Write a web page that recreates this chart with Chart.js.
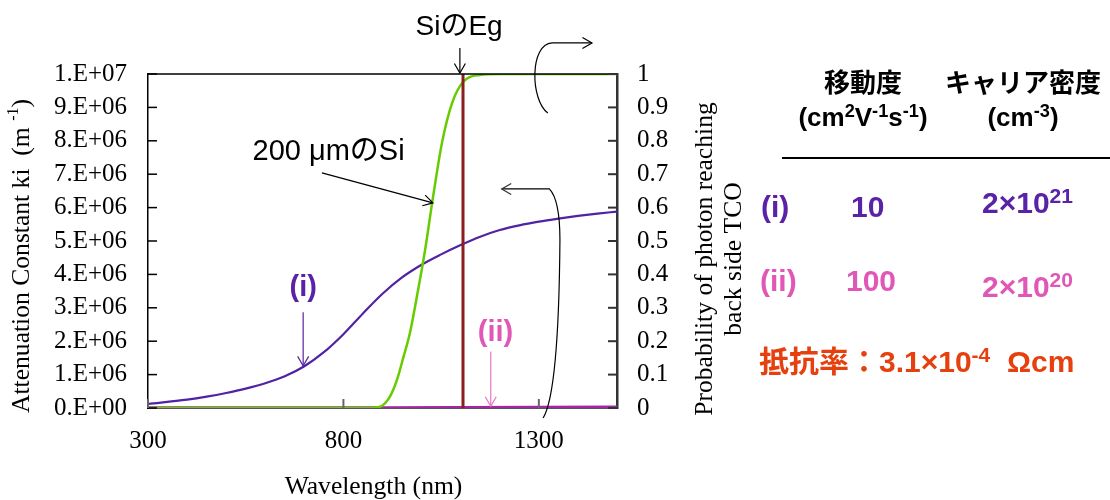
<!DOCTYPE html>
<html>
<head>
<meta charset="utf-8">
<script src="https://cdn.jsdelivr.net/npm/chart.js@4"></script>
<style>
  html, body { margin: 0; padding: 0; background: #fff; }
  #wrap { position: relative; width: 1110px; height: 500px; overflow: hidden; }
  #c { position: absolute; left: 0; top: 0; }
  .t { position: absolute; white-space: nowrap; line-height: 1; font-family: "Liberation Sans", "Noto Sans CJK JP", sans-serif; font-weight: bold; }
  .t sup { font-size: 0.7em; position: relative; top: -0.5em; vertical-align: baseline; }
  .c { text-align: center; }
  .pur { color: #5a22a6; }
  .mag { color: #e057b6; }
  .org { color: #e6400e; }
  #rule { position: absolute; left: 782px; top: 157px; width: 328px; height: 2px; background: #000; }
</style>
</head>
<body>
<div id="wrap">
  <canvas id="c" width="1110" height="500"></canvas>
  <div class="t c" style="left:803px; width:120px; top:70px; font-size:26px;">移動度</div>
  <div class="t c" style="left:783px; width:160px; top:104px; font-size:26px;">(cm<sup>2</sup>V<sup>-1</sup>s<sup>-1</sup>)</div>
  <div class="t c" style="left:933px; width:180px; top:70px; font-size:26px;">キャリア密度</div>
  <div class="t c" style="left:963px; width:120px; top:104px; font-size:26px;">(cm<sup>-3</sup>)</div>
  <div id="rule"></div>
  <div class="t pur" style="left:761px; top:192px; font-size:30px;">(i)</div>
  <div class="t pur" style="left:851px; top:192px; font-size:30px;">10</div>
  <div class="t pur" style="left:982px; top:188px; font-size:30px;">2×10<sup>21</sup></div>
  <div class="t mag" style="left:760px; top:266px; font-size:30px;">(ii)</div>
  <div class="t mag" style="left:846px; top:266px; font-size:30px;">100</div>
  <div class="t mag" style="left:982px; top:272px; font-size:30px;">2×10<sup>20</sup></div>
  <div class="t org" style="left:759px; top:347px; font-size:30px;">抵抗率：3.1×10<sup>-4</sup>&nbsp;&nbsp;Ωcm</div>
</div>
<script>
// ---------------- data ----------------
const xTicks = [300, 800, 1300];
const wavelengthRange = [300, 1500];

// (i) attenuation constant ki (m^-1), mobility 10, carrier 2e21
const lambdaI = [300, 400, 450, 500, 550, 600, 650, 700, 750, 800, 850, 900, 950, 1000, 1050, 1100, 1150, 1200, 1250, 1300, 1350, 1400, 1450, 1500];
const kiI     = [0.12e6, 0.25e6, 0.34e6, 0.45e6, 0.58e6, 0.74e6, 0.95e6, 1.25e6, 1.67e6, 2.21e6, 2.83e6, 3.42e6, 3.91e6, 4.29e6, 4.60e6, 4.88e6, 5.13e6, 5.33e6, 5.47e6, 5.58e6, 5.67e6, 5.75e6, 5.82e6, 5.88e6];

// (ii) attenuation constant ki (m^-1), mobility 100, carrier 2e20
const lambdaII = [300, 600, 900, 1100, 1300, 1500];
const kiII     = [0.004e6, 0.006e6, 0.01e6, 0.015e6, 0.022e6, 0.03e6];

// probability of photon reaching back side TCO (200 um Si)
const lambdaP = [300, 700, 860, 894, 919, 937, 953, 970, 991, 1009, 1027, 1052, 1078, 1106, 1149, 1200, 1500];
const probP   = [0, 0, 0, 0.004, 0.034, 0.084, 0.15, 0.224, 0.353, 0.473, 0.614, 0.793, 0.913, 0.976, 0.997, 1, 1];

// Si band gap wavelength (nm)
const siEg = 1106;

// ---------------- helpers ----------------
function pts(xs, ys) { return xs.map((x, i) => ({ x: x, y: ys[i] })); }
function sciLabel(v) {
  if (v === 0) return '0.E+00';
  const e = Math.floor(Math.log10(v) + 1e-9);
  const m = Math.round(v / Math.pow(10, e));
  return m + '.E+' + String(e).padStart(2, '0');
}
const SERIF = '"Liberation Serif", "Times New Roman", serif';
const SANS = '"Liberation Sans", "Noto Sans CJK JP", sans-serif';

function arrowHead(ctx, x1, y1, x2, y2, len) {
  const a = Math.atan2(y2 - y1, x2 - x1);
  const s = Math.PI / 6;
  ctx.beginPath();
  ctx.moveTo(x2 - len * Math.cos(a - s), y2 - len * Math.sin(a - s));
  ctx.lineTo(x2, y2);
  ctx.lineTo(x2 - len * Math.cos(a + s), y2 - len * Math.sin(a + s));
  ctx.stroke();
}
function arrow(ctx, p1, p2, color, w, len) {
  ctx.save();
  ctx.strokeStyle = color; ctx.lineWidth = w;
  ctx.beginPath(); ctx.moveTo(p1[0], p1[1]); ctx.lineTo(p2[0], p2[1]); ctx.stroke();
  arrowHead(ctx, p1[0], p1[1], p2[0], p2[1], len);
  ctx.restore();
}

// annotations in data units: [wavelength, fraction on right axis]
const annot = {
  egText: [1096, 1.141],
  egArrow: [[1098, 1.078], [1098, 1.003]],
  siText: [762, 0.767],
  siArrow: [[745, 0.704], [1029, 0.614]],
  iText: [697, 0.359],
  iArrow: [[697, 0.287], [697, 0.126]],
  iiText: [1189, 0.225],
  iiArrow: [[1177, 0.169], [1177, 0.005]],
  topBracket: [[1323, 0.883], [1278, 0.922], [1276, 1.09], [1334, 1.093], [1436, 1.093]],
  lowBracket: [[1205, 0.656], [1327, 0.656], [1344, 0.635], [1354, 0.503], [1353, 0.353], [1352, 0.204], [1347, 0.039], [1311, -0.030]]
};

const decor = {
  id: 'decor',
  afterDatasetsDraw(chart) {
    const ctx = chart.ctx;
    const xs = chart.scales.x, ys = chart.scales.y, y2 = chart.scales.y2;
    const ca = chart.chartArea;
    const P = (p) => [xs.getPixelForValue(p[0]), y2.getPixelForValue(p[1])];
    ctx.save();
    // top frame line
    ctx.strokeStyle = '#000'; ctx.lineWidth = 1.5;
    ctx.beginPath(); ctx.moveTo(ca.left, ca.top); ctx.lineTo(ca.right, ca.top); ctx.stroke();
    // inward ticks
    ctx.lineWidth = 1.5; ctx.strokeStyle = '#000';
    ys.ticks.forEach(t => {
      const py = ys.getPixelForValue(t.value);
      ctx.beginPath(); ctx.moveTo(ca.left, py); ctx.lineTo(ca.left + 9, py); ctx.stroke();
    });
    ctx.strokeStyle = '#333'; ctx.lineWidth = 2;
    y2.ticks.forEach(t => {
      const py = y2.getPixelForValue(t.value);
      ctx.beginPath(); ctx.moveTo(ca.right - 9, py); ctx.lineTo(ca.right, py); ctx.stroke();
    });
    ctx.strokeStyle = '#666'; ctx.lineWidth = 2;
    xs.ticks.forEach(t => {
      const px = xs.getPixelForValue(t.value);
      ctx.beginPath(); ctx.moveTo(px, ca.bottom); ctx.lineTo(px, ca.bottom - 9); ctx.stroke();
    });

    // texts
    ctx.textAlign = 'center'; ctx.textBaseline = 'middle';
    ctx.fillStyle = '#000';
    ctx.font = '28px ' + SANS;
    let p = P(annot.egText); ctx.fillText('SiのEg', p[0], p[1]);
    ctx.font = '29px ' + SANS;
    p = P(annot.siText); ctx.fillText('200 μmのSi', p[0], p[1]);
    ctx.font = 'bold 29px ' + SANS;
    ctx.fillStyle = '#5a22a6';
    p = P(annot.iText); ctx.fillText('(i)', p[0], p[1]);
    ctx.fillStyle = '#e057b6';
    p = P(annot.iiText); ctx.fillText('(ii)', p[0], p[1]);

    // arrows
    arrow(ctx, P(annot.egArrow[0]), P(annot.egArrow[1]), '#000', 1.2, 11);
    arrow(ctx, P(annot.siArrow[0]), P(annot.siArrow[1]), '#000', 1.2, 11);
    arrow(ctx, P(annot.iArrow[0]), P(annot.iArrow[1]), '#5a22a6', 1.2, 11);
    arrow(ctx, P(annot.iiArrow[0]), P(annot.iiArrow[1]), '#e877c4', 1.2, 11);

    // top bracket (pointing right)
    const tb = annot.topBracket.map(P);
    ctx.strokeStyle = '#000'; ctx.lineWidth = 1.2;
    ctx.beginPath(); ctx.moveTo(tb[0][0], tb[0][1]);
    ctx.bezierCurveTo(tb[1][0], tb[1][1], tb[2][0], tb[2][1], tb[3][0], tb[3][1]);
    ctx.lineTo(tb[4][0], tb[4][1]); ctx.stroke();
    arrowHead(ctx, tb[3][0], tb[3][1], tb[4][0], tb[4][1], 11);

    // lower bracket (pointing left)
    const lb = annot.lowBracket.map(P);
    ctx.beginPath(); ctx.moveTo(lb[0][0], lb[0][1]); ctx.lineTo(lb[1][0], lb[1][1]);
    ctx.bezierCurveTo(lb[2][0], lb[2][1], lb[3][0], lb[3][1] - 30, lb[3][0], lb[3][1]);
    ctx.bezierCurveTo(lb[4][0], lb[4][1], lb[6][0], lb[6][1], lb[7][0], lb[7][1]);
    ctx.stroke();
    ctx.strokeStyle = '#333';
    arrowHead(ctx, lb[1][0], lb[1][1], lb[0][0], lb[0][1], 11);

    // axis titles
    const TF = 25.6;
    ctx.fillStyle = '#000';
    ctx.font = TF + 'px ' + SERIF;
    ctx.textAlign = 'center'; ctx.textBaseline = 'middle';
    ctx.fillText('Wavelength (nm)', (ca.left + ca.right) / 2 - 9, ca.bottom + 79);

    // left title with superscript
    ctx.save();
    ctx.translate(22, (ca.top + ca.bottom) / 2 + 15);
    ctx.rotate(-Math.PI / 2);
    const main = 'Attenuation Constant ki  (m ';
    const sup = '-1';
    const tail = ')';
    ctx.font = TF + 'px ' + SERIF;
    const wm = ctx.measureText(main).width, wt = ctx.measureText(tail).width;
    ctx.font = '16px ' + SERIF;
    const ws = ctx.measureText(sup).width;
    let x0 = -(wm + ws + wt) / 2;
    ctx.textAlign = 'left';
    ctx.font = TF + 'px ' + SERIF; ctx.fillText(main, x0, 0);
    ctx.font = '16px ' + SERIF; ctx.fillText(sup, x0 + wm, -8);
    ctx.font = TF + 'px ' + SERIF; ctx.fillText(tail, x0 + wm + ws, 0);
    ctx.restore();

    // right title (two lines, reading bottom to top)
    ctx.save();
    ctx.font = TF + 'px ' + SERIF; ctx.textAlign = 'center'; ctx.textBaseline = 'middle';
    ctx.translate(ca.right + 88, (ca.top + ca.bottom) / 2 + 18);
    ctx.rotate(-Math.PI / 2);
    ctx.fillText('Probability of photon reaching', 0, 0);
    ctx.fillText('back side TCO', 0, 29);
    ctx.restore();

    ctx.restore();
  }
};

const tickFont = { family: SERIF, size: 25 };

new Chart(document.getElementById('c'), {
  type: 'line',
  data: {
    datasets: [
      { label: 'Si Eg', data: pts([siEg, siEg], [0, 1]), yAxisID: 'y2', borderColor: '#8b1e1e', borderWidth: 3, pointRadius: 0, tension: 0 },
      { label: '200 um Si', data: pts(lambdaP, probP), yAxisID: 'y2', borderColor: '#66cc00', borderWidth: 2.5, pointRadius: 0, cubicInterpolationMode: 'monotone' },
      { label: '(ii)', data: pts(lambdaII, kiII), yAxisID: 'y', borderColor: '#a524a8', borderWidth: 3, pointRadius: 0, cubicInterpolationMode: 'monotone' },
      { label: '(i)', data: pts(lambdaI, kiI), yAxisID: 'y', borderColor: '#5022a4', borderWidth: 2.2, pointRadius: 0, cubicInterpolationMode: 'monotone' }
    ]
  },
  options: {
    responsive: false,
    animation: false,
    events: [],
    layout: { padding: { top: 74, right: 393, bottom: 0, left: 0 } },
    plugins: { legend: { display: false }, tooltip: { enabled: false }, title: { display: false } },
    scales: {
      x: {
        type: 'linear', min: wavelengthRange[0], max: wavelengthRange[1],
        afterBuildTicks: (s) => { s.ticks = xTicks.map(v => ({ value: v })); },
        afterFit: (s) => { s.height = 92; },
        grid: { display: false, drawTicks: false },
        border: { display: true, color: '#555', width: 2 },
        ticks: { font: tickFont, color: '#000', padding: 18, maxRotation: 0, autoSkip: false, callback: (v) => String(v) }
      },
      y: {
        position: 'left', min: 0, max: 1e7,
        afterFit: (s) => { s.width = 148; },
        grid: { display: false, drawTicks: false },
        border: { display: true, color: '#000', width: 1.5 },
        ticks: { stepSize: 1e6, font: tickFont, color: '#000', padding: 21, callback: (v) => sciLabel(v) }
      },
      y2: {
        position: 'right', min: 0, max: 1,
        afterFit: (s) => { s.width = 100; },
        grid: { display: false, drawTicks: false },
        border: { display: true, color: '#333', width: 2.5 },
        ticks: { stepSize: 0.1, font: tickFont, color: '#000', padding: 20, callback: (v) => String(+v.toFixed(1)) }
      }
    }
  },
  plugins: [decor]
});
</script>
</body>
</html>
